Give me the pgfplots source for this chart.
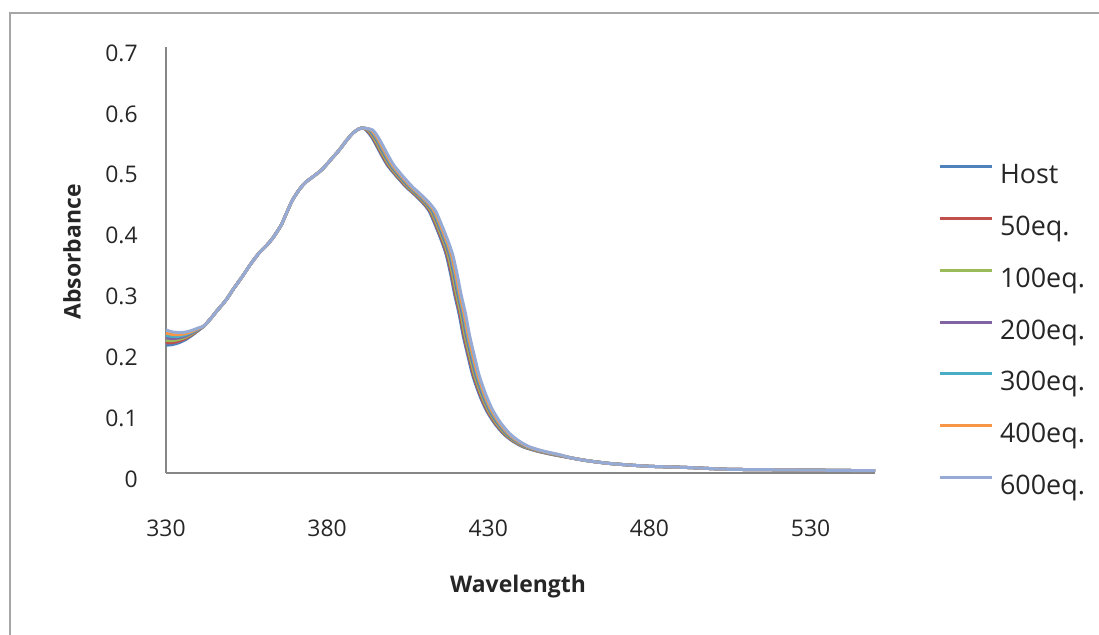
\documentclass[border=0pt]{standalone}
\usepackage{fontspec}
\setmainfont{Open Sans}
\usepackage{pgfplots}
\pgfplotsset{compat=1.18}
\definecolor{cHost}{HTML}{4F81BD}
\definecolor{cA}{HTML}{C0504D}
\definecolor{cB}{HTML}{9BBB59}
\definecolor{cC}{HTML}{8064A2}
\definecolor{cD}{HTML}{4BACC6}
\definecolor{cE}{HTML}{F79646}
\definecolor{cF}{HTML}{96AAD6}
\definecolor{axgray}{HTML}{868686}
\definecolor{framegray}{HTML}{A6A6A6}
\begin{document}
\begin{tikzpicture}
\useasboundingbox (0bp,0bp) rectangle (549.5bp,317.5bp);
\draw[color=framegray, line width=1bp] (5bp,0bp) -- (5bp,311bp) -- (549.5bp,311bp);
\begin{axis}[
  at={(83bp,81bp)}, anchor=south west,
  scale only axis, width=354.5bp, height=213bp,
  xmin=330, xmax=550, ymin=0, ymax=0.7,
  axis x line*=bottom, axis y line*=left,
  axis line style={draw=axgray, line width=0.75bp, -},
  xtick={330,380,430,480,530}, xticklabels={330,380,430,480,530},
  ytick={0,0.1,0.2,0.3,0.4,0.5,0.6,0.7}, yticklabels={0,0.1,0.2,0.3,0.4,0.5,0.6,0.7},
  major tick length=0pt,
  /pgf/number format/assume math mode=true,
  tick label style={font=\fontsize{11.5}{13}\selectfont, text=black!85},
  xticklabel style={anchor=center, yshift=-27.5bp},
  yticklabel style={anchor=east, inner sep=0pt, xshift=-14bp, yshift=-3bp},
  xlabel={Wavelength}, ylabel={Absorbance},
  label style={font=\bfseries\fontsize{11.5}{13}\selectfont, text=black!85},
  xlabel style={at={(axis description cs:0.4965,-0.2676)}, anchor=center},
  ylabel style={at={(axis description cs:-0.1326,0.519)}, anchor=center},
  legend style={at={(axis description cs:1.0889,0.7263)}, anchor=north west,
    draw=none, fill=none, inner sep=0pt, outer sep=0pt, row sep=12.9bp,
    font=\fontsize{13.5}{15}\selectfont, text=black!85,
    nodes={inner sep=0pt, text height=10bp, text depth=3bp},
    /tikz/every odd column/.append style={column sep=3.5bp}},
  legend cell align=left,
  legend image code/.code={\draw[#1, line width=1.5bp] (0bp,5bp) -- (26bp,5bp);},
  every axis plot/.append style={line width=1.5bp, smooth, tension=0.4},
  clip=false,
]
% Host
\addplot[color=cHost] coordinates {
(330,0.210) (332,0.211) (334,0.214) (336,0.219) (338,0.226) (340,0.234)
(341.9,0.242) (343.9,0.254) (345.9,0.267) (348.6,0.284) (351.0,0.303) (353.7,0.323) (356.1,0.342) (358.8,0.361) (361.2,0.374) (363.0,0.385) (365.7,0.407) (367.3,0.426) (369.2,0.448) (371.4,0.466) (373.4,0.478) (375.9,0.488) (378.5,0.499) (381.0,0.514) (383.8,0.531) (386.1,0.547) (387.9,0.558) (389.7,0.565) (391.0,0.567)
(392.0,0.564) (393.7,0.553) (395.1,0.540) (397.0,0.521) (398.8,0.505) (401.6,0.487) (404.5,0.470) (406.6,0.460) (409.5,0.445) (411.7,0.430) (413.9,0.403) (415.6,0.380) (417.0,0.358) (418.4,0.325) (419.5,0.295) (421.0,0.260) (422.2,0.226) (423.7,0.192) (425.2,0.160) (427.3,0.128) (429.4,0.103) (431.9,0.082) (434.6,0.065) (437.4,0.053) (440.8,0.043) (445.1,0.036) (450.2,0.030)
(456,0.0245) (461,0.020) (467,0.016) (474,0.013) (480,0.011) (486,0.010) (492,0.009) (498,0.0075) (505,0.006) (515,0.0055) (525,0.005) (535,0.0045) (545,0.004) (550,0.004)
};
\addlegendentry{Host}
% 50eq
\addplot[color=cA] coordinates {
(330,0.214) (332,0.2143) (334,0.2167) (336,0.221) (338,0.2273) (340,0.2347)
(341.9,0.242) (343.9,0.254) (345.9,0.267) (348.6,0.284) (351.0,0.303) (353.7,0.323) (356.1,0.342) (358.8,0.361) (361.2,0.374) (363.0,0.385) (365.7,0.407) (367.3,0.426) (369.2,0.448) (371.4,0.466) (373.4,0.478) (375.9,0.488) (378.5,0.499) (381.0,0.514) (383.8,0.531) (386.1,0.547) (387.9,0.558) (389.7,0.565) (391.0,0.567)
(392.3,0.564) (394.0,0.553) (395.4,0.540) (397.3,0.521) (399.1,0.505) (401.9,0.487) (404.8,0.470) (406.9,0.460) (409.8,0.445) (412.0,0.430) (414.2,0.403) (415.9,0.380) (417.3,0.358) (418.7,0.325) (419.8,0.295) (421.3,0.260) (422.5,0.226) (424.0,0.192) (425.5,0.160) (427.6,0.128) (429.7,0.103) (432.2,0.082) (434.9,0.065) (437.7,0.053) (441.1,0.043) (445.4,0.036) (450.5,0.030)
(456,0.0245) (461,0.020) (467,0.016) (474,0.013) (480,0.011) (486,0.010) (492,0.009) (498,0.0075) (505,0.006) (515,0.0055) (525,0.005) (535,0.0045) (545,0.004) (550,0.004)
};
\addlegendentry{50eq.}
% 100eq
\addplot[color=cB] coordinates {
(330,0.218) (332,0.2176) (334,0.2194) (336,0.223) (338,0.2286) (340,0.2354)
(341.9,0.242) (343.9,0.254) (345.9,0.267) (348.6,0.284) (351.0,0.303) (353.7,0.323) (356.1,0.342) (358.8,0.361) (361.2,0.374) (363.0,0.385) (365.7,0.407) (367.3,0.426) (369.2,0.448) (371.4,0.466) (373.4,0.478) (375.9,0.488) (378.5,0.499) (381.0,0.514) (383.8,0.531) (386.1,0.547) (387.9,0.558) (389.7,0.565) (391.0,0.567)
(392.6,0.564) (394.3,0.553) (395.7,0.540) (397.6,0.521) (399.4,0.505) (402.2,0.487) (405.1,0.470) (407.2,0.460) (410.1,0.445) (412.3,0.430) (414.5,0.403) (416.2,0.380) (417.6,0.358) (419.0,0.325) (420.1,0.295) (421.6,0.260) (422.8,0.226) (424.3,0.192) (425.8,0.160) (427.9,0.128) (430.0,0.103) (432.5,0.082) (435.2,0.065) (438.0,0.053) (441.4,0.043) (445.7,0.036) (450.8,0.030)
(456,0.0245) (461,0.020) (467,0.016) (474,0.013) (480,0.011) (486,0.010) (492,0.009) (498,0.0075) (505,0.006) (515,0.0055) (525,0.005) (535,0.0045) (545,0.004) (550,0.004)
};
\addlegendentry{100eq.}
% 200eq
\addplot[color=cC] coordinates {
(330,0.222) (332,0.221) (334,0.222) (336,0.225) (338,0.230) (340,0.236)
(341.9,0.242) (343.9,0.254) (345.9,0.267) (348.6,0.284) (351.0,0.303) (353.7,0.323) (356.1,0.342) (358.8,0.361) (361.2,0.374) (363.0,0.385) (365.7,0.407) (367.3,0.426) (369.2,0.448) (371.4,0.466) (373.4,0.478) (375.9,0.488) (378.5,0.499) (381.0,0.514) (383.8,0.531) (386.1,0.547) (387.9,0.558) (389.7,0.565) (391.0,0.567)
(393.0,0.564) (394.7,0.553) (396.1,0.540) (398.0,0.521) (399.8,0.505) (402.6,0.487) (405.5,0.470) (407.6,0.460) (410.5,0.445) (412.7,0.430) (414.9,0.403) (416.6,0.380) (418.0,0.358) (419.4,0.325) (420.5,0.295) (422.0,0.260) (423.2,0.226) (424.7,0.192) (426.2,0.160) (428.3,0.128) (430.4,0.103) (432.9,0.082) (435.6,0.065) (438.4,0.053) (441.8,0.043) (446.1,0.036) (451.2,0.030)
(456,0.0245) (461,0.020) (467,0.016) (474,0.013) (480,0.011) (486,0.010) (492,0.009) (498,0.0075) (505,0.006) (515,0.0055) (525,0.005) (535,0.0045) (545,0.004) (550,0.004)
};
\addlegendentry{200eq.}
% 300eq
\addplot[color=cD] coordinates {
(330,0.226) (332,0.2243) (334,0.2247) (336,0.227) (338,0.2313) (340,0.2367)
(341.9,0.242) (343.9,0.254) (345.9,0.267) (348.6,0.284) (351.0,0.303) (353.7,0.323) (356.1,0.342) (358.8,0.361) (361.2,0.374) (363.0,0.385) (365.7,0.407) (367.3,0.426) (369.2,0.448) (371.4,0.466) (373.4,0.478) (375.9,0.488) (378.5,0.499) (381.0,0.514) (383.8,0.531) (386.1,0.547) (387.9,0.558) (389.7,0.565) (391.0,0.567)
(393.3,0.564) (395.0,0.553) (396.4,0.540) (398.3,0.521) (400.1,0.505) (402.9,0.487) (405.8,0.470) (407.9,0.460) (410.8,0.445) (413.0,0.430) (415.2,0.403) (416.9,0.380) (418.3,0.358) (419.7,0.325) (420.8,0.295) (422.3,0.260) (423.5,0.226) (425.0,0.192) (426.5,0.160) (428.6,0.128) (430.7,0.103) (433.2,0.082) (435.9,0.065) (438.7,0.053) (442.1,0.043) (446.4,0.036) (451.5,0.030)
(456,0.0245) (461,0.020) (467,0.016) (474,0.013) (480,0.011) (486,0.010) (492,0.009) (498,0.0075) (505,0.006) (515,0.0055) (525,0.005) (535,0.0045) (545,0.004) (550,0.004)
};
\addlegendentry{300eq.}
% 400eq
\addplot[color=cE] coordinates {
(330,0.230) (332,0.2276) (334,0.2274) (336,0.229) (338,0.2326) (340,0.2374)
(341.9,0.242) (343.9,0.254) (345.9,0.267) (348.6,0.284) (351.0,0.303) (353.7,0.323) (356.1,0.342) (358.8,0.361) (361.2,0.374) (363.0,0.385) (365.7,0.407) (367.3,0.426) (369.2,0.448) (371.4,0.466) (373.4,0.478) (375.9,0.488) (378.5,0.499) (381.0,0.514) (383.8,0.531) (386.1,0.547) (387.9,0.558) (389.7,0.565) (391.0,0.567)
(393.6,0.564) (395.3,0.553) (396.7,0.540) (398.6,0.521) (400.4,0.505) (403.2,0.487) (406.1,0.470) (408.2,0.460) (411.1,0.445) (413.3,0.430) (415.5,0.403) (417.2,0.380) (418.6,0.358) (420.0,0.325) (421.1,0.295) (422.6,0.260) (423.8,0.226) (425.3,0.192) (426.8,0.160) (428.9,0.128) (431.0,0.103) (433.5,0.082) (436.2,0.065) (439.0,0.053) (442.4,0.043) (446.7,0.036) (451.8,0.030)
(456,0.0245) (461,0.020) (467,0.016) (474,0.013) (480,0.011) (486,0.010) (492,0.009) (498,0.0075) (505,0.006) (515,0.0055) (525,0.005) (535,0.0045) (545,0.004) (550,0.004)
};
\addlegendentry{400eq.}
% 600eq
\addplot[color=cF] coordinates {
(330,0.235) (332,0.2318) (334,0.2308) (336,0.2315) (338,0.2343) (340,0.2383)
(341.9,0.242) (343.9,0.254) (345.9,0.267) (348.6,0.284) (351.0,0.303) (353.7,0.323) (356.1,0.342) (358.8,0.361) (361.2,0.374) (363.0,0.385) (365.7,0.407) (367.3,0.426) (369.2,0.448) (371.4,0.466) (373.4,0.478) (375.9,0.488) (378.5,0.499) (381.0,0.514) (383.8,0.531) (386.1,0.547) (387.9,0.558) (389.7,0.565) (391.0,0.567)
(394.0,0.564) (395.7,0.553) (397.1,0.540) (399.0,0.521) (400.8,0.505) (403.6,0.487) (406.5,0.470) (408.6,0.460) (411.5,0.445) (413.7,0.430) (415.9,0.403) (417.6,0.380) (419.0,0.358) (420.4,0.325) (421.5,0.295) (423.0,0.260) (424.2,0.226) (425.7,0.192) (427.2,0.160) (429.3,0.128) (431.4,0.103) (433.9,0.082) (436.6,0.065) (439.4,0.053) (442.8,0.043) (447.1,0.036) (452.2,0.030)
(456,0.0245) (461,0.020) (467,0.016) (474,0.013) (480,0.011) (486,0.010) (492,0.009) (498,0.0075) (505,0.006) (515,0.0055) (525,0.005) (535,0.0045) (545,0.004) (550,0.004)
};
\addlegendentry{600eq.}
\end{axis}
\end{tikzpicture}
\end{document}
